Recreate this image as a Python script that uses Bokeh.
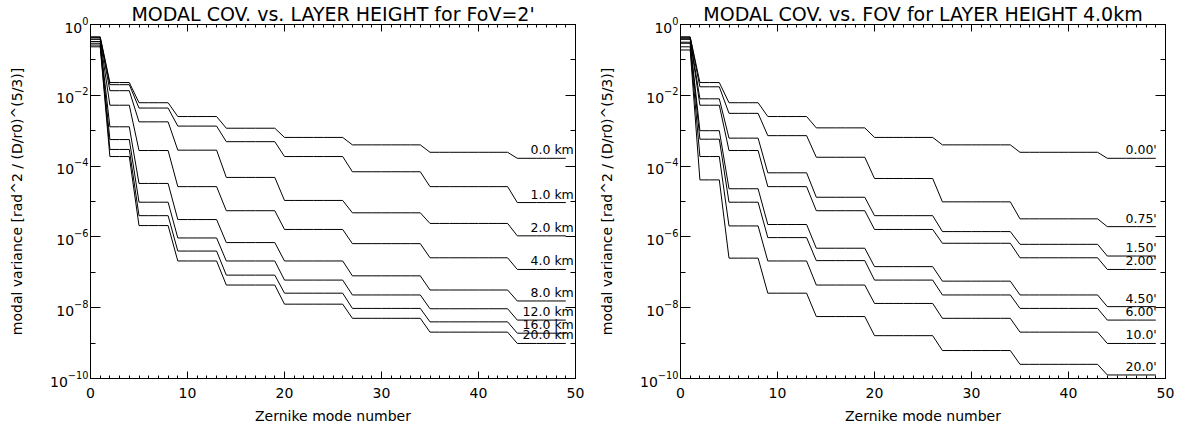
import numpy as np
from bokeh.plotting import figure
from bokeh.layouts import row
from bokeh.models import (FixedTicker, LogTickFormatter, LinearAxis, LogAxis, Range1d)
from bokeh.embed import file_html
from bokeh.resources import INLINE
from bokeh.core.properties import value

# ---------------- data ----------------
# number of Zernike modes in each radial order n=1..9 (last order truncated at mode 50)
modes_per_order = [2, 3, 4, 5, 6, 7, 8, 9, 6]

# log10 of modal covariance for each radial order n=1..9
# Left panel: vs layer height, FoV = 2'
height_labels = ["0.0 km", "1.0 km", "2.0 km", "4.0 km", "8.0 km", "12.0 km", "16.0 km", "20.0 km"]
h_0km  = [-0.35, -1.64, -2.21, -2.60, -2.93, -3.19, -3.40, -3.61, -3.78]
h_1km  = [-0.36, -1.70, -2.36, -2.87, -3.31, -3.73, -4.16, -4.58, -5.03]
h_2km  = [-0.38, -1.87, -2.75, -3.55, -4.32, -4.97, -5.32, -5.62, -5.97]
h_4km  = [-0.42, -2.28, -3.56, -4.58, -5.26, -5.79, -6.19, -6.59, -6.92]
h_8km  = [-0.48, -2.89, -4.49, -5.51, -6.16, -6.68, -7.10, -7.50, -7.81]
h_12km = [-0.53, -3.25, -5.02, -6.03, -6.68, -7.22, -7.64, -8.03, -8.35]
h_16km = [-0.58, -3.53, -5.40, -6.40, -7.08, -7.59, -8.02, -8.40, -8.72]
h_20km = [-0.63, -3.73, -5.68, -6.68, -7.36, -7.90, -8.30, -8.69, -9.01]

# Right panel: vs field of view, layer height = 4.0 km
fov_labels = ["0.00'", "0.75'", "1.50'", "2.00'", "4.50'", "6.00'", "10.0'", "20.0'"]
f_000 = [-0.35, -1.64, -2.21, -2.60, -2.92, -3.19, -3.40, -3.61, -3.78]
f_075 = [-0.36, -1.76, -2.51, -3.14, -3.75, -4.35, -5.01, -5.49, -5.71]
f_150 = [-0.39, -2.10, -3.21, -4.19, -4.88, -5.40, -5.85, -6.21, -6.54]
f_200 = [-0.42, -2.28, -3.56, -4.58, -5.26, -5.79, -6.18, -6.59, -6.92]
f_450 = [-0.50, -3.00, -4.64, -5.65, -6.32, -6.84, -7.25, -7.64, -7.97]
f_600 = [-0.53, -3.24, -5.02, -6.02, -6.67, -7.22, -7.64, -8.02, -8.35]
f_100 = [-0.63, -3.73, -5.69, -6.68, -7.36, -7.88, -8.30, -8.69, -9.01]
f_200b = [-0.72, -4.39, -6.60, -7.59, -8.25, -8.79, -9.21, -9.60, -9.90]

x_ticks = [0, 10, 20, 30, 40, 50]
y_major_exp = [0, -2, -4, -6, -8, -10]
y_minor_exp = [-1, -3, -5, -7, -9]

left_curves = [h_0km, h_1km, h_2km, h_4km, h_8km, h_12km, h_16km, h_20km]
right_curves = [f_000, f_075, f_150, f_200, f_450, f_600, f_100, f_200b]

FONT = "DejaVu Sans"
mode_index = np.arange(sum(modes_per_order))


def style_axis(ax, is_x, show_labels):
    ax.axis_line_color = "black"
    ax.major_tick_line_color = "black"
    ax.minor_tick_line_color = "black"
    ax.major_tick_out = 0
    ax.minor_tick_out = 0
    if is_x:
        ax.ticker = FixedTicker(ticks=x_ticks, minor_ticks=list(range(0, 51)))
        ax.major_tick_in = 7
        ax.minor_tick_in = 3
    else:
        ax.ticker = FixedTicker(ticks=[10.0 ** e for e in y_major_exp],
                                minor_ticks=[10.0 ** e for e in y_minor_exp])
        ax.major_tick_in = 10
        ax.minor_tick_in = 5
    if show_labels:
        ax.major_label_text_font = FONT
        ax.major_label_text_font_size = "14px"
        ax.major_label_text_color = "black"
        ax.axis_label_text_font = FONT
        ax.axis_label_text_font_size = "14px"
        ax.axis_label_text_font_style = "normal"
        ax.axis_label_text_color = "black"
    else:
        ax.major_label_text_font_size = "0px"
        ax.major_label_text_alpha = 0
        ax.major_label_standoff = 0


def make_fig(title, curves, labels, label_dx, border_right):
    p = figure(width=90 + 485 + border_right, height=428,
               x_range=Range1d(0, 50), y_range=Range1d(1e-10, 1.0),
               y_axis_type="log", output_backend="svg", toolbar_location=None,
               min_border_left=90, min_border_right=border_right,
               min_border_top=24, min_border_bottom=50, title=title)
    p.grid.visible = False
    p.outline_line_color = "black"
    p.outline_line_alpha = 1
    p.background_fill_color = "white"
    p.border_fill_color = "white"

    p.title.align = "center"
    p.title.text_font = FONT
    p.title.text_font_size = "19px"
    p.title.text_font_style = "normal"
    p.title.text_color = "black"
    p.title.standoff = 0
    p.title.offset = 0

    xa = p.xaxis[0]
    style_axis(xa, True, True)
    xa.axis_label = "Zernike mode number"
    xa.major_label_standoff = 9
    xa.axis_label_standoff = 7

    ya = p.yaxis[0]
    style_axis(ya, False, True)
    ya.formatter = LogTickFormatter()
    ya.axis_label = "modal variance [rad^2 / (D/r0)^(5/3)]"
    ya.major_label_standoff = 2
    ya.axis_label_standoff = 22

    top = LinearAxis()
    style_axis(top, True, False)
    p.add_layout(top, "above")
    right = LogAxis()
    style_axis(right, False, False)
    p.add_layout(right, "right")

    finals = []
    for lev in curves:
        y = 10.0 ** np.repeat(np.array(lev), modes_per_order)
        p.line(mode_index, y, line_color="black", line_width=1)
        finals.append(y[-1])

    p.text(x=[mode_index[-1]] * len(finals), y=finals, text=labels,
           text_align="right", text_baseline="bottom",
           x_offset=label_dx, y_offset=-1,
           text_font=value(FONT), text_font_size="12.5px", text_color="black")
    return p


p1 = make_fig("MODAL COV. vs. LAYER HEIGHT for FoV=2'", left_curves, height_labels, 8, 15)
p2 = make_fig("MODAL COV. vs. FOV for LAYER HEIGHT 4.0km", right_curves, fov_labels, 1, 12)

layout = row(p1, p2)
open("out.html", "w").write(file_html(layout, INLINE))
